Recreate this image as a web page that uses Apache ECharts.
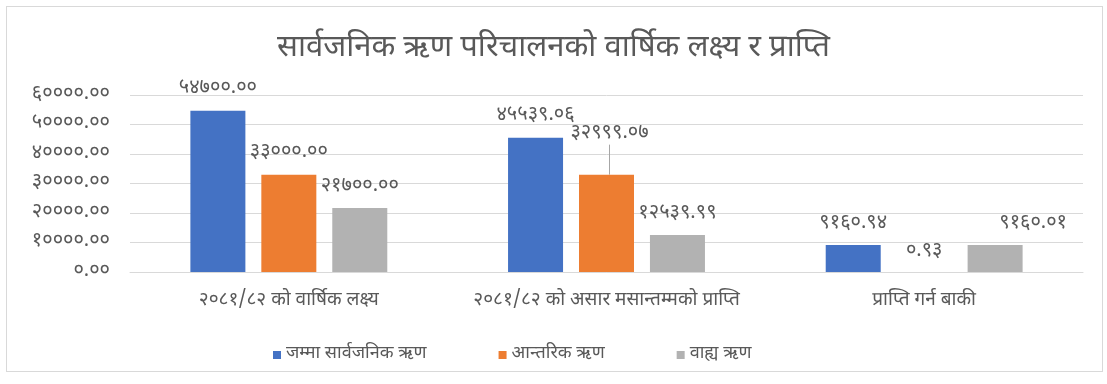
<!DOCTYPE html>
<html>
<head>
<meta charset="utf-8">
<script src="https://cdn.jsdelivr.net/npm/echarts@6/dist/echarts.min.js"></script>
<style>
html,body{margin:0;padding:0;background:#fff;}
#frame{position:absolute;left:6px;top:6px;width:1097px;height:366px;border:1px solid #d9d9d9;box-sizing:border-box;}
#chart{position:absolute;left:0;top:0;width:1107px;height:384px;}
</style>
</head>
<body>
<div id="frame"></div>
<div id="chart"></div>
<script>
const titleText = 'सार्वजनिक ऋण परिचालनको वार्षिक लक्ष्य र प्राप्ति';
const categories = ['२०८१/८२ को वार्षिक लक्ष्य', '२०८१/८२ को असार मसान्तम्मको प्राप्ति', 'प्राप्ति गर्न बाकी'];
const seriesNames = ['जम्मा सार्वजनिक ऋण', 'आन्तरिक ऋण', 'वाह्य ऋण'];
const totalDebt = [54700.00, 45539.06, 9160.94];
const internalDebt = [33000.00, 32999.07, 0.93];
const externalDebt = [21700.00, 12539.99, 9160.01];
const colors = ['#4472c4', '#ed7d31', '#b2b2b2'];

const devDigits = ['०','१','२','३','४','५','६','७','८','९'];
function toDev(v){
  return v.toFixed(2).replace(/[0-9]/g, d => devDigits[+d]);
}
const FONT = '"Noto Sans Devanagari","Lohit Devanagari","Noto Sans","Mangal",sans-serif';
const txt = '#595959';

// label nudges (pixels) per series / data index, to mimic reference placement
const nudges = [
  [[0,-6],[0,-6],[0,-6]],
  [[0,-6],[3,-25],[0,-5]],
  [[0,-6],[0,-6],[38,-6]]
];

function mkSeries(idx, vals){
  return {
    name: seriesNames[idx],
    type: 'bar',
    barWidth: 55,
    barGap: '29%',
    barCategoryGap: '38%',
    itemStyle: {color: colors[idx]},
    data: vals.map((v, i) => ({
      value: v,
      labelLine: {show: idx === 1 && i === 1, lineStyle: {color: '#a6a6a6', width: 1}}
    })),
    label: {
      show: true,
      position: 'top',
      distance: 5,
      color: txt,
      fontFamily: FONT,
      fontSize: 20,
      formatter: p => toDev(p.value)
    },
    labelLayout: (p) => ({dx: nudges[idx][p.dataIndex][0], dy: nudges[idx][p.dataIndex][1]})
  };
}

const chart = echarts.init(document.getElementById('chart'), null, {renderer: 'canvas'});
chart.setOption({
  backgroundColor: 'transparent',
  animation: false,
  title: {
    text: titleText,
    left: 'center',
    top: 30,
    textStyle: {color: txt, fontFamily: FONT, fontSize: 31, fontWeight: 'normal'}
  },
  legend: {
    bottom: 15,
    left: 268,
    itemWidth: 8,
    itemHeight: 8,
    itemGap: 72,
    icon: 'rect',
    textStyle: {color: txt, fontFamily: FONT, fontSize: 18},
    data: seriesNames
  },
  grid: {left: 130, right: 24, top: 95, bottom: 112, containLabel: false},
  xAxis: {
    type: 'category',
    data: categories,
    axisLine: {lineStyle: {color: '#d9d9d9'}},
    axisTick: {show: false},
    axisLabel: {color: txt, fontFamily: FONT, fontSize: 19, margin: 20, interval: 0}
  },
  yAxis: {
    type: 'value',
    min: 0,
    max: 60000,
    interval: 10000,
    axisLine: {show: false},
    axisTick: {show: false},
    splitLine: {lineStyle: {color: '#d9d9d9'}},
    axisLabel: {color: txt, fontFamily: FONT, fontSize: 20, margin: 20, formatter: v => toDev(v)}
  },
  series: [mkSeries(0, totalDebt), mkSeries(1, internalDebt), mkSeries(2, externalDebt)]
});
</script>
</body>
</html>
